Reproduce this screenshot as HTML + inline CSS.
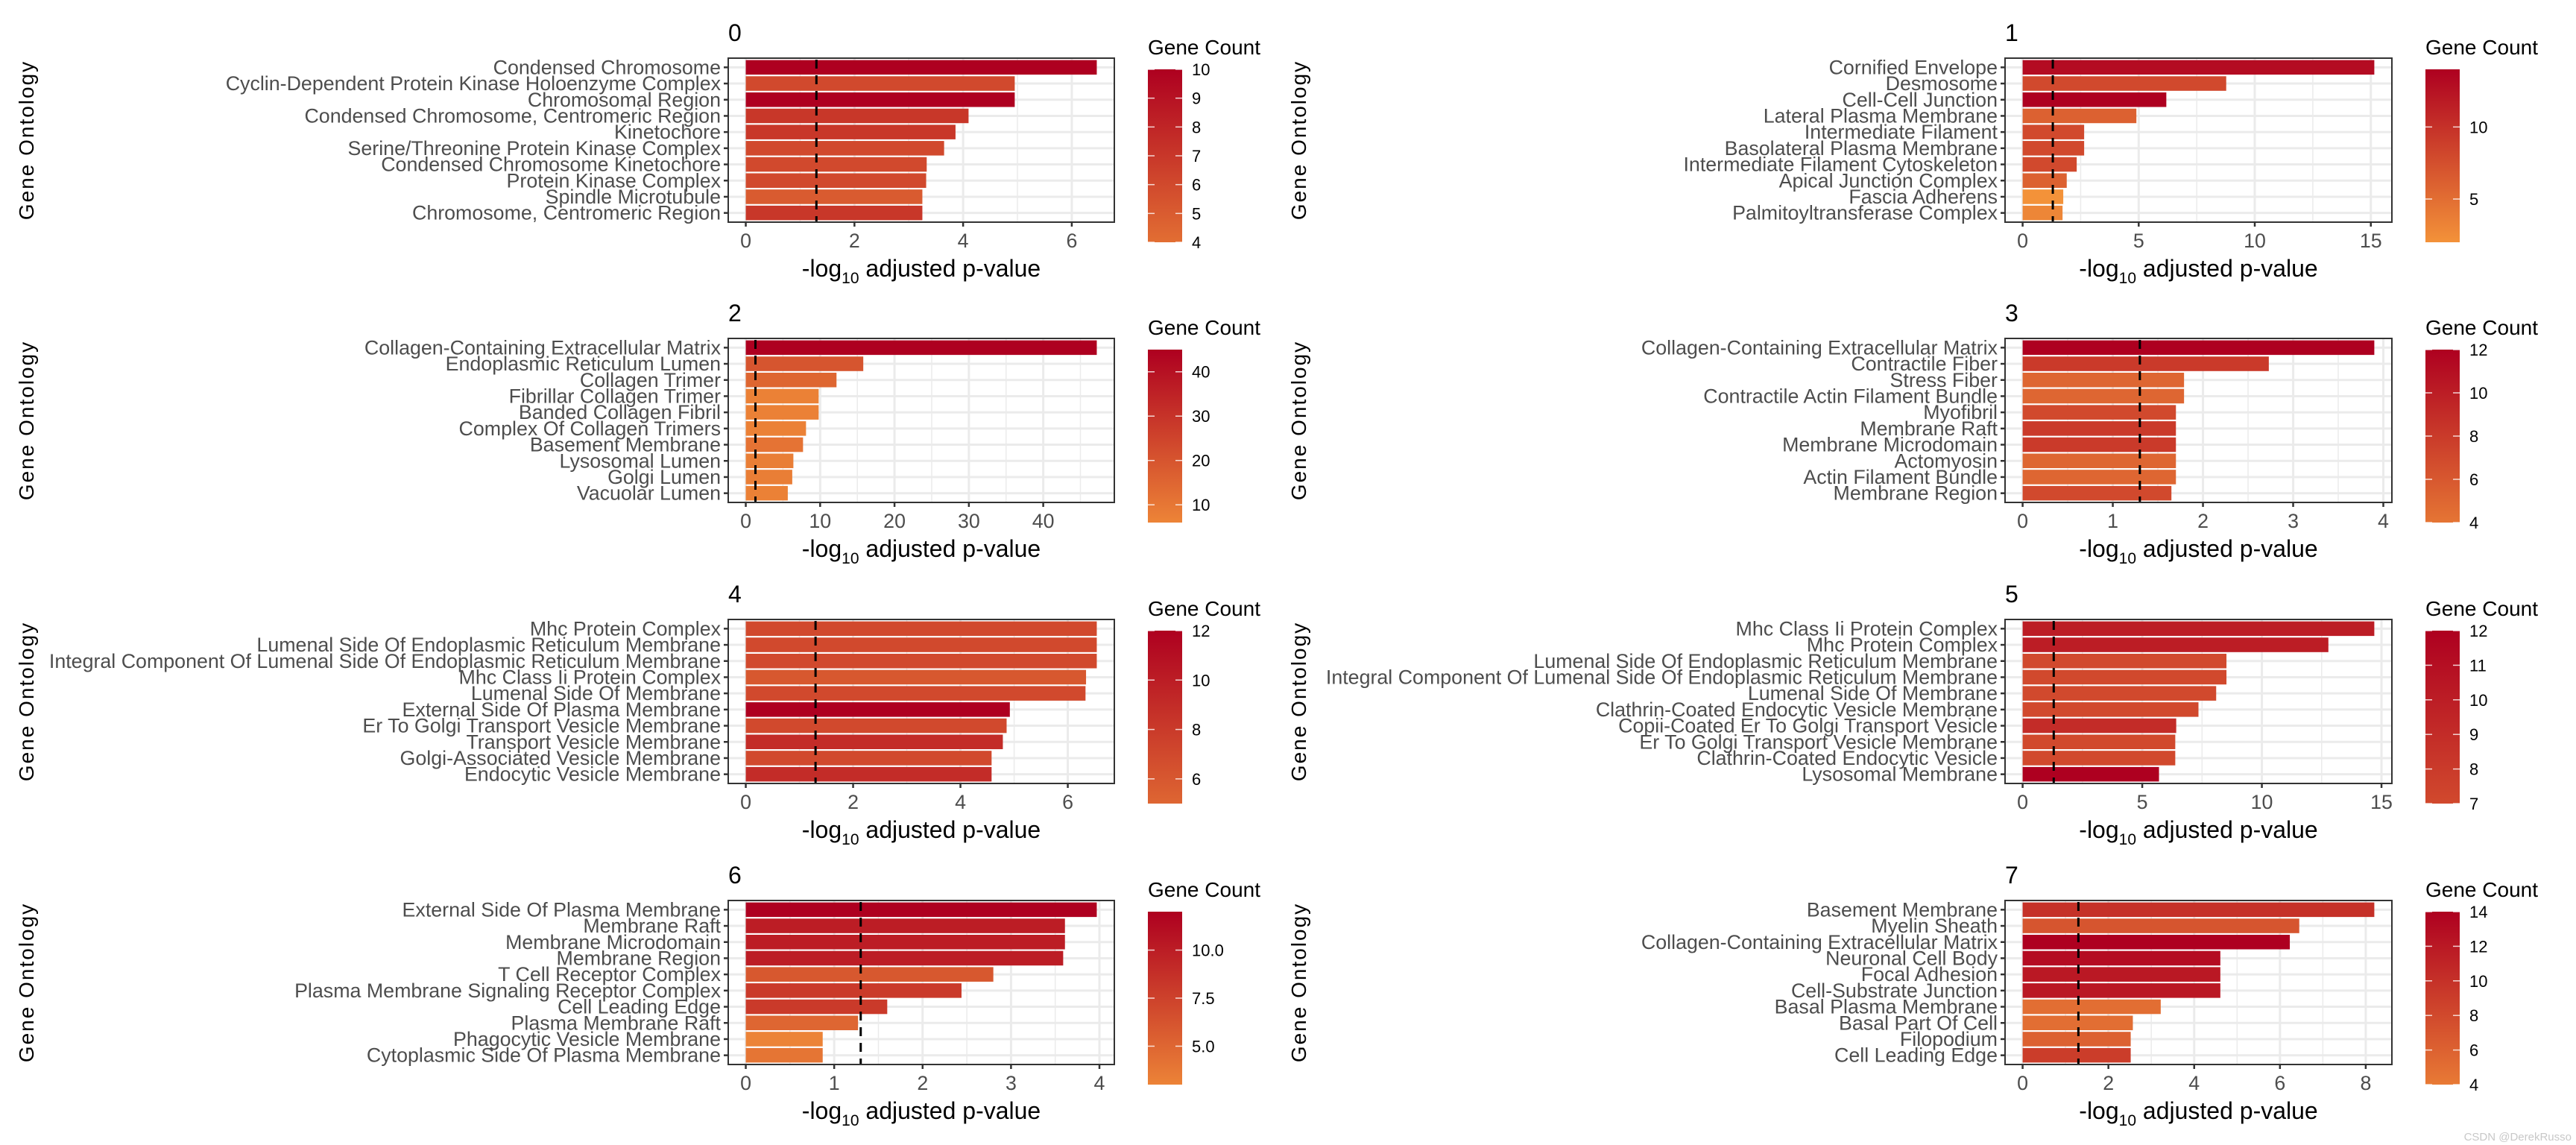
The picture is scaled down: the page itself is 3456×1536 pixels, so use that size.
<!DOCTYPE html>
<html><head><meta charset="utf-8">
<style>
html,body{margin:0;padding:0;background:#fff;}
svg{display:block;}
text{font-family:"Liberation Sans",Arial,sans-serif;}
</style></head>
<body>
<svg id="fig" width="3456" height="1536" viewBox="0 0 3456 1536" xmlns="http://www.w3.org/2000/svg">
<defs id="defs"></defs>
<text x="3450" y="1530" text-anchor="end" font-size="15" fill="#c8c8c8">CSDN @DerekRusso</text>
</svg>
<script>
const panelTitles = ["0","1","2","3","4","5","6","7"];
const terms0 = ["Condensed Chromosome","Cyclin-Dependent Protein Kinase Holoenzyme Complex","Chromosomal Region","Condensed Chromosome, Centromeric Region","Kinetochore","Serine/Threonine Protein Kinase Complex","Condensed Chromosome Kinetochore","Protein Kinase Complex","Spindle Microtubule","Chromosome, Centromeric Region"];
const terms1 = ["Cornified Envelope","Desmosome","Cell-Cell Junction","Lateral Plasma Membrane","Intermediate Filament","Basolateral Plasma Membrane","Intermediate Filament Cytoskeleton","Apical Junction Complex","Fascia Adherens","Palmitoyltransferase Complex"];
const terms2 = ["Collagen-Containing Extracellular Matrix","Endoplasmic Reticulum Lumen","Collagen Trimer","Fibrillar Collagen Trimer","Banded Collagen Fibril","Complex Of Collagen Trimers","Basement Membrane","Lysosomal Lumen","Golgi Lumen","Vacuolar Lumen"];
const terms3 = ["Collagen-Containing Extracellular Matrix","Contractile Fiber","Stress Fiber","Contractile Actin Filament Bundle","Myofibril","Membrane Raft","Membrane Microdomain","Actomyosin","Actin Filament Bundle","Membrane Region"];
const terms4 = ["Mhc Protein Complex","Lumenal Side Of Endoplasmic Reticulum Membrane","Integral Component Of Lumenal Side Of Endoplasmic Reticulum Membrane","Mhc Class Ii Protein Complex","Lumenal Side Of Membrane","External Side Of Plasma Membrane","Er To Golgi Transport Vesicle Membrane","Transport Vesicle Membrane","Golgi-Associated Vesicle Membrane","Endocytic Vesicle Membrane"];
const terms5 = ["Mhc Class Ii Protein Complex","Mhc Protein Complex","Lumenal Side Of Endoplasmic Reticulum Membrane","Integral Component Of Lumenal Side Of Endoplasmic Reticulum Membrane","Lumenal Side Of Membrane","Clathrin-Coated Endocytic Vesicle Membrane","Copii-Coated Er To Golgi Transport Vesicle","Er To Golgi Transport Vesicle Membrane","Clathrin-Coated Endocytic Vesicle","Lysosomal Membrane"];
const terms6 = ["External Side Of Plasma Membrane","Membrane Raft","Membrane Microdomain","Membrane Region","T Cell Receptor Complex","Plasma Membrane Signaling Receptor Complex","Cell Leading Edge","Plasma Membrane Raft","Phagocytic Vesicle Membrane","Cytoplasmic Side Of Plasma Membrane"];
const terms7 = ["Basement Membrane","Myelin Sheath","Collagen-Containing Extracellular Matrix","Neuronal Cell Body","Focal Adhesion","Cell-Substrate Junction","Basal Plasma Membrane","Basal Part Of Cell","Filopodium","Cell Leading Edge"];

const pval0 = [6.46,4.95,4.95,4.10,3.86,3.65,3.33,3.32,3.25,3.25];
const pval1 = [15.15,8.77,6.19,4.9,2.65,2.65,2.33,1.9,1.75,1.72];
const pval2 = [47.2,15.8,12.2,9.8,9.8,8.1,7.7,6.4,6.25,5.65];
const pval3 = [3.9,2.73,1.79,1.79,1.70,1.70,1.70,1.70,1.70,1.65];
const pval4 = [6.54,6.54,6.54,6.34,6.33,4.92,4.86,4.79,4.58,4.58];
const pval5 = [14.7,12.78,8.52,8.52,8.09,7.35,6.42,6.38,6.38,5.70];
const pval6 = [3.97,3.61,3.61,3.59,2.80,2.44,1.60,1.27,0.87,0.87];
const pval7 = [8.2,6.45,6.23,4.61,4.61,4.61,3.22,2.57,2.52,2.52];

const count0 = [10,6,10,7,7,6,6,6,5,7];
const count1 = [13,8,14,6,8,8,8,6,2,3];
const count2 = [45,20,15,7,7,7,11,8,8,7];
const count3 = [12,8,5,5,7,8,8,5,5,7];
const count4 = [7,7,7,6,7,12,7,9,7,9];
const count5 = [10,10,7,7,7,7,9,7,7,12];
const count6 = [12,10,10,10,6,8,8,5,3,4];
const count7 = [10,7,14,13,12,12,5,5,6,9];

const xTicks0 = [0,2,4,6];
const xTicks1 = [0,5,10,15];
const xTicks2 = [0,10,20,30,40];
const xTicks3 = [0,1,2,3,4];
const xTicks4 = [0,2,4,6];
const xTicks5 = [0,5,10,15];
const xTicks6 = [0,1,2,3,4];
const xTicks7 = [0,2,4,6,8];

const legendMin = [4,2,6,4,5,7,3,4];
const legendMax = [10,14,45,12,12,12,12,14];
const legendTicks0 = [4,5,6,7,8,9,10];
const legendTicks1 = [5,10];
const legendTicks2 = [10,20,30,40];
const legendTicks3 = [4,6,8,10,12];
const legendTicks4 = [6,8,10,12];
const legendTicks5 = [7,8,9,10,11,12];
const legendTicks6 = ["5.0","7.5","10.0"];
const legendTicks7 = [4,6,8,10,12,14];

const cutoff = 1.3;

const TERMS=[terms0,terms1,terms2,terms3,terms4,terms5,terms6,terms7];
const PV=[pval0,pval1,pval2,pval3,pval4,pval5,pval6,pval7];
const CN=[count0,count1,count2,count3,count4,count5,count6,count7];
const XT=[xTicks0,xTicks1,xTicks2,xTicks3,xTicks4,xTicks5,xTicks6,xTicks7];
const LT=[legendTicks0,legendTicks1,legendTicks2,legendTicks3,legendTicks4,legendTicks5,legendTicks6,legendTicks7];

const NS="http://www.w3.org/2000/svg";
const svg=document.getElementById('fig');
const defs=document.getElementById('defs');
function mk(tag,attrs,parent){const e=document.createElementNS(NS,tag);for(const k in attrs)e.setAttribute(k,attrs[k]);(parent||svg).appendChild(e);return e;}
const LO=[243,146,57], HI=[174,0,32];
function colorT(t){t=Math.max(0,Math.min(1,t));const c=LO.map((v,i)=>Math.round(v+(HI[i]-v)*t));return `rgb(${c[0]},${c[1]},${c[2]})`;}
function colorFor(c,p){return colorT((c-2)/(legendMax[p]-2));}

const rowTops=[78,454,831,1208];
const colLeft=[977,2690], colRight=[1495,3209];
const PH=220, BAND=21.7;

for(let p=0;p<8;p++){
  const col=p%2,row=Math.floor(p/2);
  const L=colLeft[col],R=colRight[col],T=rowTops[row],B=T+PH,W=R-L;
  const vals=PV[p],cnts=CN[p],terms=TERMS[p];
  const vmax=Math.max(...vals);
  const lo=-0.05*vmax, hi=1.05*vmax;
  const xs=v=>L+(v-lo)/(hi-lo)*W;
  const yc=i=>T+(PH-9*BAND)/2+i*BAND;
  const g=mk('g',{});
  
  
  const tt=mk('text',{x:L,y:T-23,'font-size':32,fill:'#000'},g);tt.textContent=panelTitles[p];
  
  
  const ticks=XT[p];
  const step=ticks[1]-ticks[0];
  for(let k=0;k<ticks.length+1;k++){const m=ticks[0]+step*(k+0.5);const x=xs(m);if(x>L&&x<R)mk('line',{x1:x,x2:x,y1:T,y2:B,stroke:'#ebebeb','stroke-width':1.5},g);}
  ticks.forEach(tv=>{const x=xs(tv);mk('line',{x1:x,x2:x,y1:T,y2:B,stroke:'#ebebeb','stroke-width':3},g);});
  terms.forEach((t,i)=>mk('line',{x1:L,x2:R,y1:yc(i),y2:yc(i),stroke:'#ebebeb','stroke-width':3},g));
  vals.forEach((v,i)=>{const r=mk('rect',{x:xs(0),y:yc(i)-BAND*0.45,width:xs(v)-xs(0),height:BAND*0.9,fill:colorFor(cnts[i],p)},g);
    
    });
  const cl=mk('line',{x1:xs(cutoff),x2:xs(cutoff),y1:T+2,y2:B,stroke:'#000','stroke-width':3,'stroke-dasharray':'12,9'},g);
  
  
  mk('rect',{x:L,y:T,width:W,height:PH,fill:'none',stroke:'#333','stroke-width':2},g);
  terms.forEach((t,i)=>{mk('line',{x1:L-6,x2:L,y1:yc(i),y2:yc(i),stroke:'#333','stroke-width':2.5},g);
    const e=mk('text',{x:L-10,y:yc(i)+9,'text-anchor':'end','font-size':26.8,fill:'#4d4d4d'},g);e.textContent=t;
    
    });
  ticks.forEach(tv=>{const x=xs(tv);mk('line',{x1:x,x2:x,y1:B,y2:B+6,stroke:'#333','stroke-width':2.5},g);
    const e=mk('text',{x:x,y:B+34,'text-anchor':'middle','font-size':26.8,fill:'#4d4d4d'},g);e.textContent=tv;
    
    });
  const xt=mk('text',{x:(L+R)/2,y:B+73,'text-anchor':'middle','font-size':32,fill:'#000'},g);
  
  
  xt.setAttribute('xml:space','preserve');
  xt.innerHTML='-log<tspan font-size="21" dy="9">10</tspan><tspan dy="-9">  adjusted p-value</tspan>';
  const yx=col===0?45:1752, yy=T+PH/2;
  const yt=mk('text',{x:yx,y:yy,'text-anchor':'middle','font-size':28,'letter-spacing':2,fill:'#000',transform:`rotate(-90 ${yx} ${yy})`},g);
  yt.textContent='Gene Ontology';
  
  
  const cbX=col===0?1540:3254, cbW=46, cbT=T+15, cbB=T+247;
  const lg=mk('g',{},g);
  
  
  const lt=mk('text',{x:cbX,y:T-5,'font-size':28,fill:'#000'},lg);lt.textContent='Gene Count';
  const gid='grad'+p;
  const gr=mk('linearGradient',{id:gid,x1:0,y1:1,x2:0,y2:0},defs);
  mk('stop',{offset:0,'stop-color':colorFor(legendMin[p],p)},gr);
  mk('stop',{offset:1,'stop-color':colorFor(legendMax[p],p)},gr);
  mk('rect',{x:cbX,y:cbT,width:cbW,height:cbB-cbT,fill:`url(#${gid})`},lg);
  const ly=v=>cbB-(v-legendMin[p])/(legendMax[p]-legendMin[p])*(cbB-cbT);
  LT[p].forEach(tv=>{const y=ly(parseFloat(tv));
    mk('line',{x1:cbX,x2:cbX+9,y1:y,y2:y,stroke:'#fff','stroke-width':1.5,opacity:0.8},lg);
    mk('line',{x1:cbX+cbW-9,x2:cbX+cbW,y1:y,y2:y,stroke:'#fff','stroke-width':1.5,opacity:0.8},lg);
    const e=mk('text',{x:cbX+cbW+13,y:y+8,'font-size':22,fill:'#000'},lg);e.textContent=tv;
    
    });
}
</script>
</body></html>
